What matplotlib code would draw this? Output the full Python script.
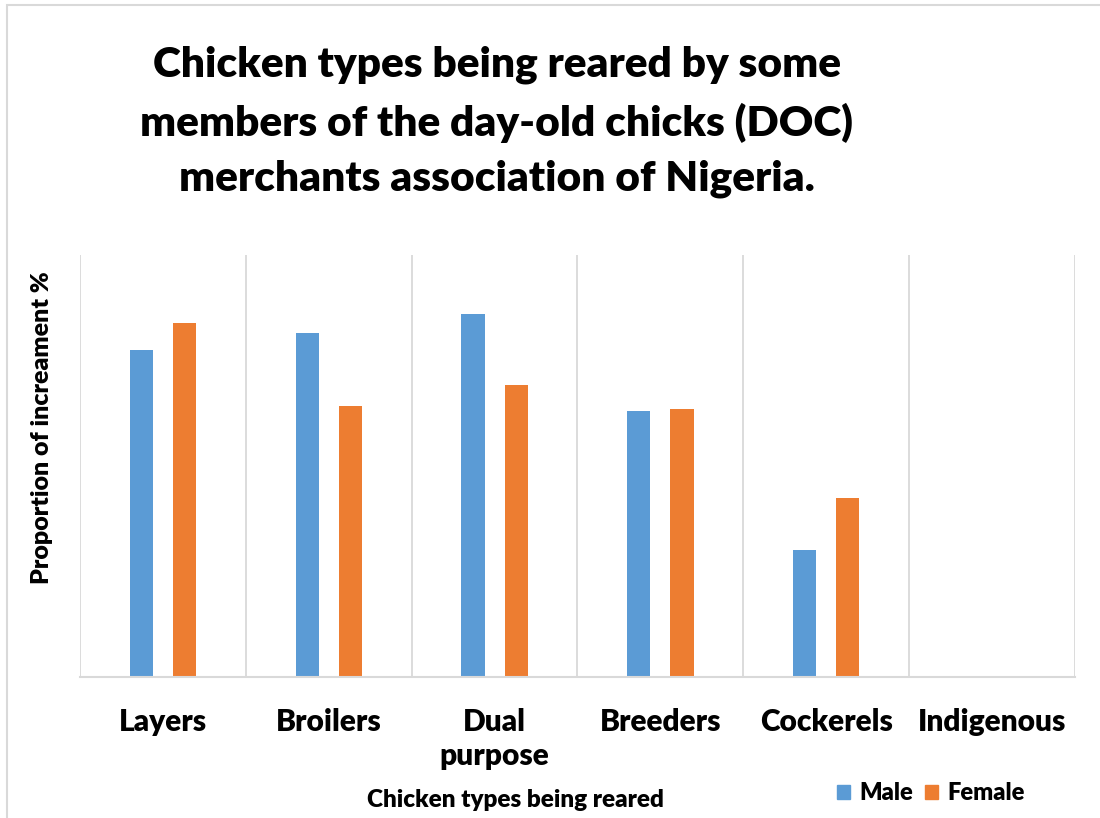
import matplotlib.pyplot as plt
import numpy as np
from matplotlib.patches import Rectangle, Patch

plt.rcParams['font.family'] = ['Lato', 'DejaVu Sans']

# Datos (escala relativa 0-60)
categorias = ["Layers", "Broilers", "Dual\npurpose", "Breeders", "Cockerels", "Indigenous"]
macho = [46.5, 48.9, 51.6, 37.8, 18.1, 0]
hembra = [50.3, 38.5, 41.5, 38.1, 25.5, 0]

azul = "#5B9BD5"
naranja = "#ED7D31"

fig = plt.figure(figsize=(11, 8.18), dpi=100)
ax = fig.add_axes([80/1100, 1-677/818, 995/1100, 422/818])

x = np.arange(len(categorias))
ancho = 0.14
ax.bar(x - 0.13, macho, ancho, color=azul, label="Male")
ax.bar(x + 0.13, hembra, ancho, color=naranja, label="Female")

ax.set_xlim(-0.5, len(categorias) - 0.5)
ax.set_ylim(0, 60)
ax.set_yticks([])
ax.set_xticks(x)
ax.set_xticklabels(categorias, fontsize=21.5, fontweight='heavy', va='top', linespacing=1.3)
ax.tick_params(axis='x', length=0, pad=22)

# líneas verticales entre categorías
for xv in np.arange(-0.5, len(categorias), 1):
    ax.axvline(xv, color="#d9d9d9", lw=1.3, zorder=0)

for s in ["top", "left", "right"]:
    ax.spines[s].set_visible(False)
ax.spines["bottom"].set_color("#d9d9d9")
ax.spines["bottom"].set_linewidth(1.5)

fig.text(497/1100, 1-122/818,
         "Chicken types being reared by some\nmembers of the day-old chicks (DOC)\nmerchants association of Nigeria.",
         ha='center', va='center', fontsize=30.5, fontweight='heavy', linespacing=1.55)

fig.text(42/1100, 1-428/818, "Proportion of increament %", rotation=90,
         ha='center', va='center', fontsize=18, fontweight='heavy')
fig.text(515/1100, 1-800/818, "Chicken types being reared",
         ha='center', va='center', fontsize=17.5, fontweight='heavy')

fig.legend(handles=[Patch(color=azul, label="Male"), Patch(color=naranja, label="Female")],
           loc='center', bbox_to_anchor=(931/1100, 1-793/818), ncol=2, frameon=False,
           prop={'weight': 'heavy', 'size': 17}, handlelength=0.55, handleheight=0.55,
           handletextpad=0.4, columnspacing=0.5)

# borde del gráfico
fig.patches.append(Rectangle((7/1100, -0.01), 1.02, 1-5/818+0.01, transform=fig.transFigure,
                             fill=False, edgecolor="#d9d9d9", lw=1.5))

fig.savefig("out.png", dpi=100)
